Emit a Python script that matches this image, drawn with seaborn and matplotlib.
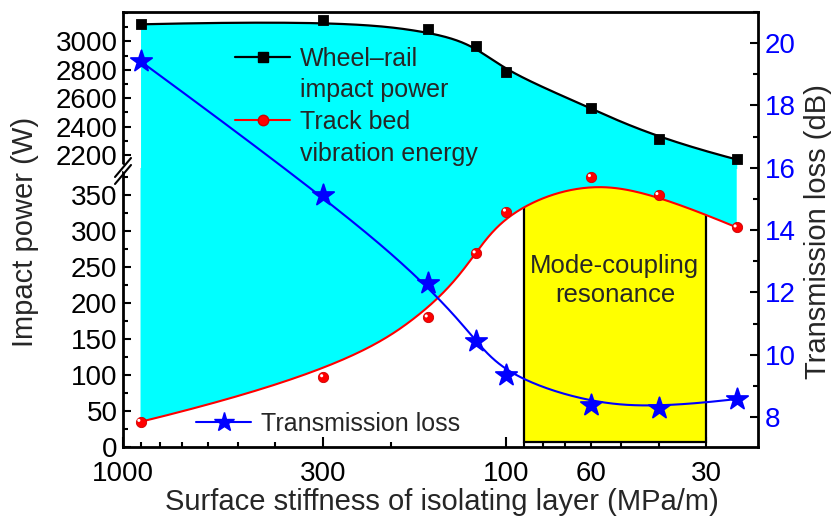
import numpy as np
import matplotlib
matplotlib.use("Agg")
import matplotlib.pyplot as plt
from matplotlib.lines import Line2D
from matplotlib.patches import Rectangle
from matplotlib.ticker import FixedLocator, FixedFormatter, LogLocator, NullFormatter, MultipleLocator
import seaborn as sns

# data
stiffness = [900, 300, 160, 120, 100, 60, 40, 25]          # MPa/m
impact_power = [3121, 3151, 3085, 2968, 2787, 2530, 2313, 2168]  # W
vibration_energy = [35, 97, 180, 269, 327, 375, 350, 305]        # W
transmission_loss = [19.42, 15.12, 12.30, 10.44, 9.35, 8.39, 8.29, 8.58]  # dB
x_tick_values = [1000, 300, 100, 60, 30]
resonance_range = [90, 30]

sns.set_theme(style="ticks")
plt.rcParams['font.family'] = ['Liberation Sans', 'DejaVu Sans']
plt.rcParams['axes.edgecolor'] = 'black'
plt.rcParams['axes.linewidth'] = 2.0
plt.rcParams['xtick.color'] = 'black'
plt.rcParams['ytick.color'] = 'black'

CYAN = '#00FFFF'
YELLOW = '#FFFF00'
BLUE = '#0000FF'
RED = '#FF0000'


def bspline(xs, ys, n=300, k=3):
    """Clamped uniform B-spline using the points as control points (x in log space)."""
    lx = np.log10(np.asarray(xs, float))
    py = np.asarray(ys, float)
    m = len(lx)
    knots = np.concatenate([np.zeros(k), np.linspace(0, 1, m - k + 1), np.ones(k)])
    t = np.linspace(0, 1, n)
    N = np.zeros((n, len(knots) - 1))
    for i in range(len(knots) - 1):
        N[:, i] = (knots[i] <= t) & (t < knots[i + 1])
    last = np.max(np.nonzero(knots[:-1] < knots[1:])[0])
    N[t == 1.0, last] = 1.0
    for d in range(1, k + 1):
        Nn = np.zeros((n, len(knots) - 1 - d))
        for i in range(len(knots) - 1 - d):
            a = knots[i + d] - knots[i]
            b = knots[i + d + 1] - knots[i + 1]
            left = (t - knots[i]) / a * N[:, i] if a > 0 else 0
            right = (knots[i + d + 1] - t) / b * N[:, i + 1] if b > 0 else 0
            Nn[:, i] = left + right
        N = Nn
    return 10 ** (N @ lx), N @ py


px_curve, power_curve = bspline(stiffness, impact_power)
ex_curve, energy_curve = bspline(stiffness, vibration_energy)
tx_curve, loss_curve = bspline(stiffness, transmission_loss)

W, H = 836, 527
fig = plt.figure(figsize=(W / 100, H / 100), dpi=100)
L, R = 123 / W, 758 / W
T, B = 1 - 12 / H, 1 - 447 / H
BRK = 1 - 168 / H

ax_bot = fig.add_axes([L, B, R - L, BRK - B])
ax_top = fig.add_axes([L, BRK, R - L, T - BRK])
ax_r = fig.add_axes([L, B, R - L, T - B])
ax_r.patch.set_visible(False)

for ax in (ax_bot, ax_top, ax_r):
    ax.set_xscale('log')
    ax.set_xlim(1000, 22)

ax_top.set_ylim(2108, 3208)
ax_bot.set_ylim(0, 387.5)
ax_r.set_ylim(7.04, 21.0)

# lower part: resonance band, fill above the energy curve, energy curve
ax_bot.add_patch(Rectangle((resonance_range[0], 7), resonance_range[1] - resonance_range[0], 500,
                           facecolor=YELLOW, edgecolor='black', lw=1.6, zorder=1))
ax_bot.fill_between(ex_curve, energy_curve, 1000, color=CYAN, lw=0, zorder=2)
sns.lineplot(x=ex_curve, y=energy_curve, ax=ax_bot, color=RED, lw=1.5, sort=False,
             estimator=None, legend=False, zorder=3)
sns.scatterplot(x=stiffness, y=vibration_energy, ax=ax_bot, marker='o', s=55, color=RED,
                edgecolor='#CC0000', linewidth=0.6, zorder=4, legend=False)
sns.scatterplot(x=[s * 1.01 for s in stiffness], y=[v + 2 for v in vibration_energy], ax=ax_bot,
                marker='o', s=5, color='white', edgecolor='none', zorder=5, legend=False)
ax_bot.text(52, 231, "Mode-coupling\nresonance", ha='center', va='center', fontsize=18.5,
            linespacing=1.25, zorder=6)

# upper part: fill below the impact power curve, impact power curve
ax_top.fill_between(px_curve, 0, power_curve, color=CYAN, lw=0, zorder=2)
sns.lineplot(x=px_curve, y=power_curve, ax=ax_top, color='black', lw=1.6, sort=False,
             estimator=None, legend=False, zorder=3)
sns.scatterplot(x=stiffness, y=impact_power, ax=ax_top, marker='s', s=55, color='black',
                edgecolor='black', zorder=4, legend=False)

# transmission loss on the right axis
sns.lineplot(x=tx_curve, y=loss_curve, ax=ax_r, color=BLUE, lw=1.5, sort=False,
             estimator=None, legend=False, zorder=3)
sns.scatterplot(x=stiffness, y=transmission_loss, ax=ax_r, marker='*', s=260, color=BLUE,
                edgecolor=BLUE, zorder=4, legend=False)

# spines
ax_bot.spines['top'].set_visible(False)
ax_bot.spines['right'].set_visible(False)
ax_top.spines['bottom'].set_visible(False)
ax_top.spines['right'].set_visible(False)
for side in ('left', 'top', 'bottom'):
    ax_r.spines[side].set_visible(False)

tick_kw = dict(direction='in', width=1.5)
ax_bot.xaxis.set_major_locator(FixedLocator(x_tick_values))
ax_bot.xaxis.set_major_formatter(FixedFormatter([str(v) for v in x_tick_values]))
ax_bot.xaxis.set_minor_locator(LogLocator(base=10, subs=np.arange(2, 10), numticks=20))
ax_bot.xaxis.set_minor_formatter(NullFormatter())
ax_bot.tick_params(axis='x', which='major', length=7, labelsize=20, pad=10, **tick_kw)
ax_bot.tick_params(axis='x', which='minor', length=3.5, **tick_kw)
ax_bot.yaxis.set_major_locator(MultipleLocator(50))
ax_bot.yaxis.set_minor_locator(MultipleLocator(25))
ax_bot.tick_params(axis='y', which='major', length=6, labelsize=20, pad=4, **tick_kw)
ax_bot.tick_params(axis='y', which='minor', length=3.5, **tick_kw)

ax_top.yaxis.set_major_locator(FixedLocator([2200, 2400, 2600, 2800, 3000]))
ax_top.yaxis.set_minor_locator(MultipleLocator(100))
ax_top.tick_params(axis='y', which='major', length=6, labelsize=20, pad=4, **tick_kw)
ax_top.tick_params(axis='y', which='minor', length=3.5, **tick_kw)
ax_top.tick_params(axis='x', which='both', bottom=False, labelbottom=False)

ax_r.yaxis.tick_right()
ax_r.yaxis.set_major_locator(MultipleLocator(2))
ax_r.yaxis.set_minor_locator(MultipleLocator(1))
ax_r.tick_params(axis='y', which='major', length=6, labelsize=20, pad=5, labelcolor=BLUE, **tick_kw)
ax_r.tick_params(axis='y', which='minor', length=3.5, **tick_kw)
ax_r.tick_params(axis='x', which='both', bottom=False, labelbottom=False)
for a in (ax_bot, ax_top, ax_r):
    a.set_xlabel('')
    a.set_ylabel('')

# axis break marks on the left spine
fig.add_artist(Line2D([117 / W, 129 / W], [1 - 164 / H, 1 - 172 / H], color='white', lw=4))
for dy in (0, 7):
    fig.add_artist(Line2D([115 / W, 131 / W], [1 - (177 + dy) / H, 1 - (158 + dy) / H],
                          color='black', lw=1.5))

# labels
fig.text(442 / W, 1 - 502 / H, "Surface stiffness of isolating layer (MPa/m)",
         ha='center', va='center', fontsize=21)
fig.text(25 / W, 1 - 232 / H, "Impact power (W)", rotation=90,
         ha='center', va='center', fontsize=21)
fig.text(818 / W, 1 - 232 / H, "Transmission loss (dB)", rotation=90,
         ha='center', va='center', fontsize=21)

# legends
blank = Line2D([], [], color='none')
h_power = Line2D([], [], color='black', lw=1.6, marker='s', markersize=7)
h_energy = Line2D([], [], color=RED, lw=1.5, marker='o', markersize=7.5,
                  markeredgecolor='#CC0000')
h_loss = Line2D([], [], color=BLUE, lw=1.5, marker='*', markersize=15)
fig.legend([h_power, blank, h_energy, blank],
           ["Wheel\u2013rail", "impact power", "Track bed", "vibration energy"],
           loc='upper left', bbox_to_anchor=(235 / W, 1 - 47 / H), frameon=False,
           fontsize=18, handlelength=2.2, handletextpad=0.4, labelspacing=0.3,
           borderpad=0, borderaxespad=0)
fig.legend([h_loss], ["Transmission loss"], loc='upper left',
           bbox_to_anchor=(196 / W, 1 - 412 / H), frameon=False, fontsize=18,
           handlelength=2.2, handletextpad=0.4, borderpad=0, borderaxespad=0)

fig.savefig("out.png", dpi=100)
